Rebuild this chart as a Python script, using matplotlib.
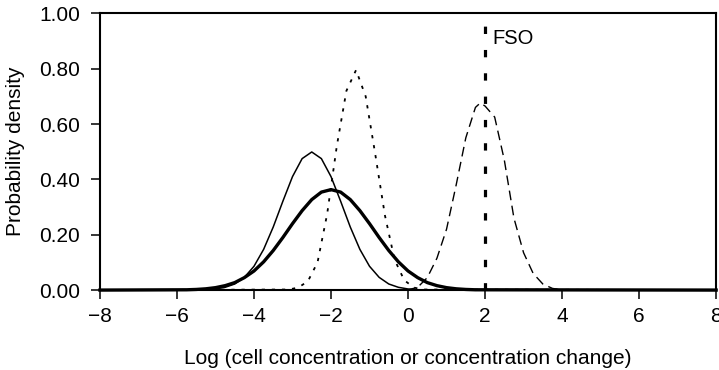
import matplotlib
matplotlib.use('Agg')
import matplotlib.pyplot as plt
from matplotlib.ticker import FormatStrFormatter, MultipleLocator

plt.rcParams['font.family'] = ['Liberation Sans', 'DejaVu Sans']

# thin solid curve
thin_x = [-8, -5.5, -5.25, -5.0, -4.75, -4.5, -4.25, -4.0, -3.75, -3.5, -3.25, -3.0, -2.75, -2.5,
          -2.25, -2.0, -1.75, -1.5, -1.25, -1.0, -0.75, -0.5, -0.25, 0.0, 0.25, 0.5, 8]
thin_y = [0, 0.0004, 0.0013, 0.004, 0.010, 0.022, 0.046, 0.086, 0.147, 0.228, 0.321, 0.410, 0.475, 0.499,
          0.475, 0.410, 0.321, 0.228, 0.147, 0.086, 0.046, 0.022, 0.010, 0.004, 0.0013, 0.0004, 0]

# thick solid curve
thick_x = [-8, -5.75, -5.5, -5.25, -5.0, -4.75, -4.5, -4.25, -4.0, -3.75, -3.5, -3.25, -3.0, -2.75, -2.5,
           -2.25, -2.0, -1.75, -1.5, -1.25, -1.0, -0.75, -0.5, -0.25, 0.0, 0.25, 0.5, 0.75, 1.0,
           1.25, 1.5, 1.75, 8]
thick_y = [0, 0.0011, 0.0023, 0.0046, 0.0088, 0.016, 0.027, 0.045, 0.069, 0.102, 0.143, 0.190, 0.240, 0.287, 0.327,
           0.354, 0.363, 0.354, 0.327, 0.287, 0.240, 0.190, 0.143, 0.102, 0.069, 0.045, 0.027, 0.016, 0.0088,
           0.0046, 0.0023, 0.0011, 0]

# dotted curve
dot_x = [-8, -3.1, -2.85, -2.6, -2.35, -2.1, -1.85, -1.6, -1.35, -1.1, -0.85, -0.6, -0.35, -0.1, 0.15, 0.4, 8]
dot_y = [0, 0.002, 0.009, 0.032, 0.100, 0.275, 0.52, 0.72, 0.795, 0.70, 0.49, 0.27, 0.11, 0.036, 0.009, 0.002, 0]

# dashed curve
dash_x = [-8, 0.0, 0.25, 0.5, 0.75, 1.0, 1.25, 1.5, 1.75, 1.875, 2.0, 2.25, 2.5, 2.75, 3.0, 3.25, 3.5, 3.75, 4.0, 8]
dash_y = [0, 0.001, 0.01, 0.045, 0.115, 0.22, 0.38, 0.55, 0.66, 0.676, 0.665, 0.625, 0.47, 0.26, 0.135, 0.06,
          0.022, 0.006, 0.001, 0]

fso_x = 2
fso_label = 'FSO'

fig = plt.figure(figsize=(7.19, 3.70), dpi=100)
ax = fig.add_axes([0.139, 0.216, 0.857, 0.748])

ax.plot(thin_x, thin_y, color='black', lw=1.1, clip_on=False, zorder=3)
ax.plot(thick_x, thick_y, color='black', lw=2.4, clip_on=False, zorder=3)
ax.plot(dot_x, dot_y, color='black', lw=1.3, linestyle=(0, (1.8, 3.8)), clip_on=False, zorder=3)
ax.plot(dash_x, dash_y, color='black', lw=1.0, linestyle=(0, (7, 4)), clip_on=False, zorder=3)
ax.plot([fso_x, fso_x], [0, 1], color='black', lw=2.3, linestyle=(0, (2.3, 5)), zorder=4)
ax.text(fso_x + 0.2, 0.91, fso_label, fontsize=14.5, va='center', ha='left')

ax.set_xlim(-8, 8)
ax.set_ylim(0, 1)
ax.xaxis.set_major_locator(MultipleLocator(2))
ax.yaxis.set_major_locator(MultipleLocator(0.2))
ax.yaxis.set_major_formatter(FormatStrFormatter('%.2f'))
ax.tick_params(direction='out', length=6.5, width=1.1, labelsize=15)
ax.tick_params(axis='y', pad=8)
ax.tick_params(axis='x', pad=6)

for sp in ax.spines.values():
    sp.set_linewidth(1.5)

ax.set_xlabel('Log (cell concentration or concentration change)', fontsize=15, labelpad=16)
ax.set_ylabel('Probability density', fontsize=15, labelpad=10)

fig.savefig('out.png', dpi=100)
